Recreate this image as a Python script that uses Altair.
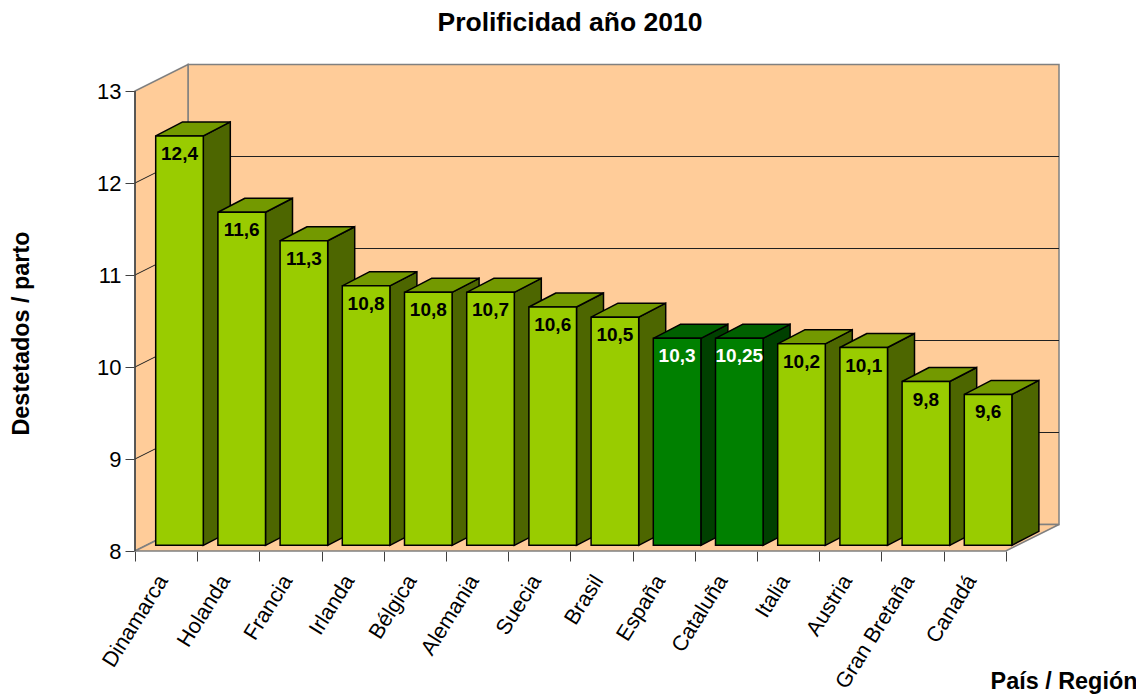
import json
import altair as alt
import pandas as pd

paises = ["Dinamarca", "Holanda", "Francia", "Irlanda", "Bélgica", "Alemania", "Suecia",
          "Brasil", "España", "Cataluña", "Italia", "Austria", "Gran Bretaña", "Canadá"]
valores = [12.45, 11.62, 11.31, 10.82, 10.75, 10.75, 10.59,
           10.48, 10.25, 10.25, 10.19, 10.15, 9.78, 9.64]
etiquetas = ["12,4", "11,6", "11,3", "10,8", "10,8", "10,7", "10,6",
             "10,5", "10,3", "10,25", "10,2", "10,1", "9,8", "9,6"]
resaltados = ["España", "Cataluña"]
ticks_y = [8, 9, 10, 11, 12, 13]

FONT = "Liberation Sans"
GREY = "#808080"
WALL = "#FFCC99"

# geometry in data units
PX_X, PX_Y = 62.2, 92.0
W, H = 924, 487
N = len(paises)
XMAX, YMIN, YMAX = W / PX_X, 8, 8 + H / PX_Y
WDX, WDY = 53 / PX_X, 26.5 / PX_Y          # depth of the box
BAR_L, BAR_W = 20.7 / PX_X, 47.6 / PX_X    # bar inside its slot
BDX, BDY = 27 / PX_X, 14 / PX_Y            # depth of a bar
BASE = 8 + 5.7 / PX_Y                      # where the bars stand

xs = alt.Scale(domain=[0, XMAX], nice=False, zero=False)
ys = alt.Scale(domain=[YMIN, YMAX], nice=False, zero=False)

front, side, top = [], [], []
for i, (p, v, e) in enumerate(zip(paises, valores, etiquetas)):
    hi = p in resaltados
    x0, x1 = i + BAR_L, i + BAR_L + BAR_W
    y0, y1 = BASE, v - 8 + BASE
    front.append(dict(p=p, x0=x0, x1=x1, y0=y0, y1=y1, xm=(x0 + x1) / 2, e=e,
                      fill="#008000" if hi else "#99CC00",
                      tc="#FFFFFF" if hi else "#000000"))
    sf = "#004000" if hi else "#4D6600"
    side.append(dict(p=p, x=x1, a=y0, b=y1, fill=sf))
    side.append(dict(p=p, x=x1 + BDX, a=y0 + BDY, b=y1 + BDY, fill=sf))
    tf = "#006000" if hi else "#739900"
    top.append(dict(p=p, y=y1, a=x0, b=x1, fill=tf))
    top.append(dict(p=p, y=y1 + BDY, a=x0 + BDX, b=x1 + BDX, fill=tf))
front, side, top = pd.DataFrame(front), pd.DataFrame(side), pd.DataFrame(top)

nombres = json.dumps(paises, ensure_ascii=False)
x_axis = alt.Axis(values=list(range(N + 1)), labelExpr=f"{nombres}[datum.value] || ''",
                  labelAngle=-58, labelAlign="right", labelBaseline="middle", labelOffset=28,
                  labelPadding=16, labelFontSize=21.5, labelFont=FONT, labelColor="black",
                  labelOverlap=False, labelBound=False, labelFlush=False,
                  tickSize=10, tickColor="#404040", domain=False, grid=False,
                  title="País / Región", titleFont=FONT, titleFontSize=23.4, titleFontWeight="bold",
                  titleColor="black", titleX=1002, titleY=130, titleAlign="right", titleBaseline="middle")
y_axis = alt.Axis(values=ticks_y, format="d", tickSize=10, tickColor="#404040", domain=False, grid=False,
                  labelFontSize=22, labelFont=FONT, labelColor="black", labelPadding=4,
                  title="Destetados / parto", titleFont=FONT, titleFontSize=23.4, titleFontWeight="bold",
                  titleColor="black", titleX=-114, titleY=269, titleAlign="center", titleBaseline="middle")

# back wall
back = pd.DataFrame([dict(x0=WDX, x1=XMAX, y0=8 + WDY, y1=13 + WDY)])
back_l = alt.Chart(back).mark_rect(fill=WALL, stroke=GREY, strokeWidth=1.5).encode(
    x=alt.X("x0:Q", scale=xs, axis=x_axis), x2="x1:Q",
    y=alt.Y("y0:Q", scale=ys, axis=y_axis), y2="y1:Q")

# left wall
lw = pd.DataFrame([dict(x=0, a=8, b=13), dict(x=WDX, a=8 + WDY, b=13 + WDY)])
left_l = alt.Chart(lw).mark_area(fill=WALL, stroke=GREY, strokeWidth=1.5, opacity=1).encode(
    x=alt.X("x:Q", scale=xs), y=alt.Y("a:Q", scale=ys), y2="b:Q")

# floor
fl = pd.DataFrame([dict(y=8, a=0, b=N), dict(y=8 + WDY, a=WDX, b=XMAX)])
floor_l = alt.Chart(fl).mark_area(orient="horizontal", fill=WALL, stroke=GREY, strokeWidth=1.5, opacity=1).encode(
    y=alt.Y("y:Q", scale=ys), x=alt.X("a:Q", scale=xs), x2="b:Q")

# gridlines on both walls
inner = [t for t in ticks_y if t not in (ticks_y[0], ticks_y[-1])]
g1 = pd.DataFrame([dict(x0=WDX, x1=XMAX, y0=t + WDY, y1=t + WDY) for t in inner])
g2 = pd.DataFrame([dict(x0=0, x1=WDX, y0=t, y1=t + WDY) for t in inner])
grid_l = alt.Chart(pd.concat([g1, g2])).mark_rule(color="#202020", strokeWidth=1).encode(
    x=alt.X("x0:Q", scale=xs), x2="x1:Q", y=alt.Y("y0:Q", scale=ys), y2="y1:Q")

# dark left edge of the box
edge = pd.DataFrame([dict(x0=0, x1=0, y0=8, y1=13)])
edge_l = alt.Chart(edge).mark_rule(color="#404040", strokeWidth=1.5).encode(
    x=alt.X("x0:Q", scale=xs), x2="x1:Q", y=alt.Y("y0:Q", scale=ys), y2="y1:Q")

STROKE = dict(stroke="black", strokeWidth=1.5, opacity=1)
side_l = alt.Chart(side).mark_area(**STROKE).encode(
    x=alt.X("x:Q", scale=xs), y=alt.Y("a:Q", scale=ys), y2="b:Q",
    fill=alt.Fill("fill:N", scale=None), detail="p:N")
top_l = alt.Chart(top).mark_area(orient="horizontal", **STROKE).encode(
    y=alt.Y("y:Q", scale=ys), x=alt.X("a:Q", scale=xs), x2="b:Q",
    fill=alt.Fill("fill:N", scale=None), detail="p:N")
front_l = alt.Chart(front).mark_rect(stroke="black", strokeWidth=1.5).encode(
    x=alt.X("x0:Q", scale=xs), x2="x1:Q", y=alt.Y("y0:Q", scale=ys), y2="y1:Q",
    fill=alt.Fill("fill:N", scale=None))
text_l = alt.Chart(front).mark_text(font=FONT, fontSize=19, fontWeight="bold", dy=18, dx=0).encode(
    x=alt.X("xm:Q", scale=xs), y=alt.Y("y1:Q", scale=ys), text="e:N",
    color=alt.Color("tc:N", scale=None))

chart = alt.layer(back_l, left_l, floor_l, grid_l, edge_l, side_l, top_l, front_l, text_l).properties(
    width=W, height=H,
    title=alt.TitleParams("Prolificidad año 2010", font=FONT, fontSize=26.5, fontWeight="bold",
                          color="black", anchor="middle", dx=-27, offset=25),
    autosize=alt.AutoSizeParams(type="none"),
    padding={"left": 127, "top": 56, "right": 77, "bottom": 144},
).configure_view(stroke=None)

chart.save("out.html", embed_options={"renderer": "svg", "actions": False})
